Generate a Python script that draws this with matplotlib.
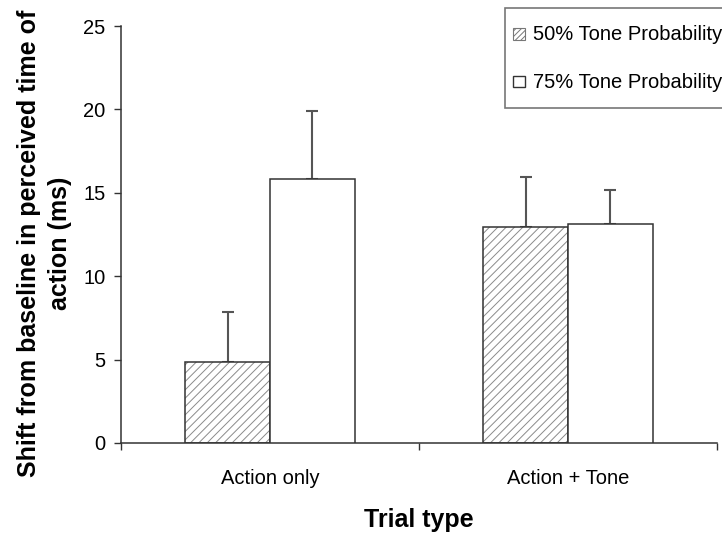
import matplotlib
matplotlib.use("Agg")
import matplotlib.pyplot as plt
import numpy as np
from matplotlib.patches import Patch, Rectangle
from matplotlib.legend_handler import HandlerPatch

categories = ["Action only", "Action + Tone"]
series_names = ["50% Tone Probability", "75% Tone Probability"]
means_50 = [4.85, 12.95]
means_75 = [15.85, 13.15]
err_50 = [3.0, 3.0]
err_75 = [4.05, 2.0]
yticks = [0, 5, 10, 15, 20, 25]

plt.rcParams['font.family'] = ['Liberation Sans', 'DejaVu Sans']
plt.rcParams['hatch.linewidth'] = 0.7

fig = plt.figure(figsize=(7.22, 5.33), dpi=100)
ax = fig.add_axes([121/722, 1 - 443/533, (717-121)/722, (443-26)/533])

x = np.arange(len(categories))
w = 0.285
off = 0.1425
edge = '#333333'

ax.bar(x - off, means_50, w, color='white', edgecolor='#8a8a8a', hatch='////', linewidth=0, zorder=2)
ax.bar(x - off, means_50, w, color='none', edgecolor=edge, linewidth=1.1, zorder=3)
ax.bar(x + off, means_75, w, color='white', edgecolor=edge, linewidth=1.1, zorder=3)

ax.errorbar(x - off, means_50, yerr=[np.zeros(2), err_50], fmt='none', ecolor='#555555',
            elinewidth=1.5, capsize=4.5, capthick=1.5, zorder=1)
ax.errorbar(x + off, means_75, yerr=[np.zeros(2), err_75], fmt='none', ecolor='#555555',
            elinewidth=1.5, capsize=4.5, capthick=1.5, zorder=1)

ax.set_xlim(-0.5, 1.5)
ax.set_ylim(0, 25)
ax.set_yticks(yticks)
ax.set_xticks([-0.5, 0.5, 1.5])
ax.set_xticklabels([])
ax.set_xticks(x, minor=True)
ax.set_xticklabels(categories, minor=True, fontsize=14.5)
ax.tick_params(axis='x', which='minor', length=0, pad=19)
ax.tick_params(axis='x', which='major', length=5, direction='out', color='#333333', width=1)
ax.tick_params(axis='y', length=5, direction='out', color='#333333', width=1, labelsize=14.5, pad=6)

for s in ['top', 'right']:
    ax.spines[s].set_visible(False)
for s in ['left', 'bottom']:
    ax.spines[s].set_color('#333333')
    ax.spines[s].set_linewidth(1.1)

ax.set_ylabel("Shift from baseline in perceived time of\naction (ms)", fontsize=18,
              fontweight='bold', linespacing=1.35)
ax.yaxis.set_label_coords(-0.083, 0.48)
ax.set_xlabel("Trial type", fontsize=18, fontweight='bold', labelpad=14)


def small_square(legend, orig_handle, xdescent, ydescent, width, height, fontsize):
    s = width
    return Rectangle((-xdescent, -ydescent + (height - s) / 2), s, s)


h1 = Patch(facecolor='white', edgecolor='#777777', hatch='//////', linewidth=0.8)
h2 = Patch(facecolor='white', edgecolor='#333333', linewidth=1.0)
hm = {h1: HandlerPatch(patch_func=small_square), h2: HandlerPatch(patch_func=small_square)}
leg = fig.legend([h1, h2], series_names, loc='upper left', bbox_to_anchor=(505/722, 1 - 8/533),
                 frameon=True, fancybox=False, edgecolor='#555555', fontsize=14.5,
                 handlelength=0.58, handleheight=2.4, handletextpad=0.4, labelspacing=0.55,
                 borderpad=0.4, borderaxespad=0, handler_map=hm)
leg.get_frame().set_linewidth(1.2)

fig.savefig("out.png", dpi=100)
